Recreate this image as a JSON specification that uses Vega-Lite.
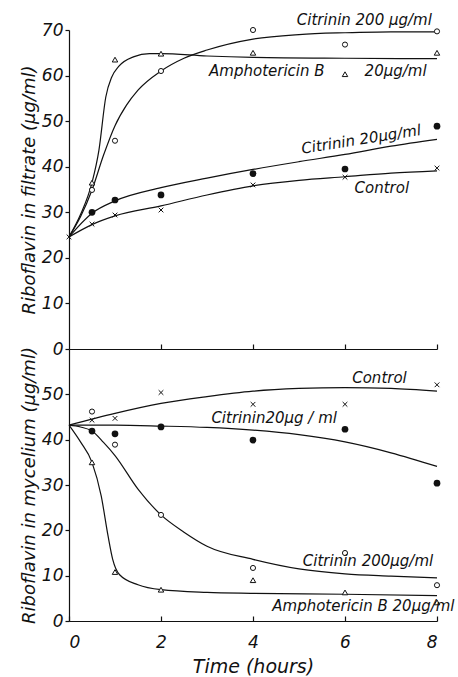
{
  "$schema": "https://vega.github.io/schema/vega-lite/v6.json",
  "background": "white",
  "padding": {"left": 20, "top": 13, "right": 5, "bottom": 5},
  "spacing": 0,
  "bounds": "flush",
  "config": {
    "view": {"stroke": null},
    "axis": {
      "grid": false,
      "domainColor": "#111",
      "tickColor": "#111",
      "domainWidth": 1.2,
      "tickWidth": 1.2,
      "labelFont": "DejaVu Sans",
      "labelFontStyle": "italic",
      "labelFontSize": 17,
      "labelColor": "#111",
      "titleFont": "DejaVu Sans",
      "titleFontStyle": "italic",
      "titleFontWeight": "normal",
      "titleFontSize": 18,
      "titleColor": "#111"
    },
    "text": {"font": "DejaVu Sans", "fontStyle": "italic", "fontSize": 15, "color": "#111"}
  },
  "datasets": {
    "pts": [
      {"panel": "filtrate", "series": "Control", "t": 0, "v": 24.6},
      {"panel": "filtrate", "series": "Control", "t": 0.5, "v": 27.4},
      {"panel": "filtrate", "series": "Control", "t": 1, "v": 29.4},
      {"panel": "filtrate", "series": "Control", "t": 2, "v": 30.5},
      {"panel": "filtrate", "series": "Control", "t": 4, "v": 36},
      {"panel": "filtrate", "series": "Control", "t": 6, "v": 37.7},
      {"panel": "filtrate", "series": "Control", "t": 8, "v": 39.7},
      {"panel": "filtrate", "series": "Citrinin 20", "t": 0.5, "v": 30},
      {"panel": "filtrate", "series": "Citrinin 20", "t": 1, "v": 32.7},
      {"panel": "filtrate", "series": "Citrinin 20", "t": 2, "v": 33.8},
      {"panel": "filtrate", "series": "Citrinin 20", "t": 4, "v": 38.5},
      {"panel": "filtrate", "series": "Citrinin 20", "t": 6, "v": 39.5},
      {"panel": "filtrate", "series": "Citrinin 20", "t": 8, "v": 48.9},
      {"panel": "filtrate", "series": "Citrinin 200", "t": 0.5, "v": 34.9},
      {"panel": "filtrate", "series": "Citrinin 200", "t": 1, "v": 45.7},
      {"panel": "filtrate", "series": "Citrinin 200", "t": 2, "v": 61},
      {"panel": "filtrate", "series": "Citrinin 200", "t": 4, "v": 70},
      {"panel": "filtrate", "series": "Citrinin 200", "t": 6, "v": 66.8},
      {"panel": "filtrate", "series": "Citrinin 200", "t": 8, "v": 69.7},
      {"panel": "filtrate", "series": "Amphotericin B", "t": 0.5, "v": 36.5},
      {"panel": "filtrate", "series": "Amphotericin B", "t": 1, "v": 63.5},
      {"panel": "filtrate", "series": "Amphotericin B", "t": 2, "v": 64.8},
      {"panel": "filtrate", "series": "Amphotericin B", "t": 4, "v": 65},
      {"panel": "filtrate", "series": "Amphotericin B", "t": 6, "v": 60.3},
      {"panel": "filtrate", "series": "Amphotericin B", "t": 8, "v": 65},
      {"panel": "mycelium", "series": "Control", "t": 0.5, "v": 44.3},
      {"panel": "mycelium", "series": "Control", "t": 1, "v": 44.7},
      {"panel": "mycelium", "series": "Control", "t": 2, "v": 50.4},
      {"panel": "mycelium", "series": "Control", "t": 4, "v": 47.8},
      {"panel": "mycelium", "series": "Control", "t": 6, "v": 47.8},
      {"panel": "mycelium", "series": "Control", "t": 8, "v": 52.1},
      {"panel": "mycelium", "series": "Citrinin 20", "t": 0.5, "v": 41.9},
      {"panel": "mycelium", "series": "Citrinin 20", "t": 1, "v": 41.3},
      {"panel": "mycelium", "series": "Citrinin 20", "t": 2, "v": 42.8},
      {"panel": "mycelium", "series": "Citrinin 20", "t": 4, "v": 39.9},
      {"panel": "mycelium", "series": "Citrinin 20", "t": 6, "v": 42.3},
      {"panel": "mycelium", "series": "Citrinin 20", "t": 8, "v": 30.4},
      {"panel": "mycelium", "series": "Citrinin 200", "t": 0.5, "v": 46.2},
      {"panel": "mycelium", "series": "Citrinin 200", "t": 1, "v": 38.9},
      {"panel": "mycelium", "series": "Citrinin 200", "t": 2, "v": 23.4},
      {"panel": "mycelium", "series": "Citrinin 200", "t": 4, "v": 11.7},
      {"panel": "mycelium", "series": "Citrinin 200", "t": 6, "v": 15},
      {"panel": "mycelium", "series": "Citrinin 200", "t": 8, "v": 7.9},
      {"panel": "mycelium", "series": "Amphotericin B", "t": 0.5, "v": 35},
      {"panel": "mycelium", "series": "Amphotericin B", "t": 1, "v": 10.8},
      {"panel": "mycelium", "series": "Amphotericin B", "t": 2, "v": 6.9},
      {"panel": "mycelium", "series": "Amphotericin B", "t": 4, "v": 9},
      {"panel": "mycelium", "series": "Amphotericin B", "t": 6, "v": 6.3},
      {"panel": "mycelium", "series": "Amphotericin B", "t": 8, "v": 4.1}
    ],
    "curves": [
      {"panel": "filtrate", "series": "Control", "t": 0, "v": 24.6},
      {"panel": "filtrate", "series": "Control", "t": 0.5, "v": 27.3},
      {"panel": "filtrate", "series": "Control", "t": 1, "v": 29.2},
      {"panel": "filtrate", "series": "Control", "t": 2, "v": 31.4},
      {"panel": "filtrate", "series": "Control", "t": 3, "v": 33.8},
      {"panel": "filtrate", "series": "Control", "t": 4, "v": 35.8},
      {"panel": "filtrate", "series": "Control", "t": 5, "v": 37},
      {"panel": "filtrate", "series": "Control", "t": 6, "v": 37.8},
      {"panel": "filtrate", "series": "Control", "t": 7, "v": 38.6},
      {"panel": "filtrate", "series": "Control", "t": 8, "v": 39.1},
      {"panel": "filtrate", "series": "Citrinin 20", "t": 0, "v": 24.6},
      {"panel": "filtrate", "series": "Citrinin 20", "t": 0.5, "v": 29.8},
      {"panel": "filtrate", "series": "Citrinin 20", "t": 1, "v": 32.5},
      {"panel": "filtrate", "series": "Citrinin 20", "t": 2, "v": 35.4},
      {"panel": "filtrate", "series": "Citrinin 20", "t": 3, "v": 37.5},
      {"panel": "filtrate", "series": "Citrinin 20", "t": 4, "v": 39.4},
      {"panel": "filtrate", "series": "Citrinin 20", "t": 5, "v": 41.1},
      {"panel": "filtrate", "series": "Citrinin 20", "t": 6, "v": 42.7},
      {"panel": "filtrate", "series": "Citrinin 20", "t": 7, "v": 44.5},
      {"panel": "filtrate", "series": "Citrinin 20", "t": 8, "v": 46},
      {"panel": "filtrate", "series": "Citrinin 200", "t": 0, "v": 24.6},
      {"panel": "filtrate", "series": "Citrinin 200", "t": 0.25, "v": 29},
      {"panel": "filtrate", "series": "Citrinin 200", "t": 0.5, "v": 34.9},
      {"panel": "filtrate", "series": "Citrinin 200", "t": 0.75, "v": 42.5},
      {"panel": "filtrate", "series": "Citrinin 200", "t": 1, "v": 49},
      {"panel": "filtrate", "series": "Citrinin 200", "t": 1.25, "v": 53.5},
      {"panel": "filtrate", "series": "Citrinin 200", "t": 1.5, "v": 56.8},
      {"panel": "filtrate", "series": "Citrinin 200", "t": 2, "v": 61},
      {"panel": "filtrate", "series": "Citrinin 200", "t": 2.5, "v": 63.8},
      {"panel": "filtrate", "series": "Citrinin 200", "t": 3, "v": 65.6},
      {"panel": "filtrate", "series": "Citrinin 200", "t": 4, "v": 68},
      {"panel": "filtrate", "series": "Citrinin 200", "t": 5, "v": 69},
      {"panel": "filtrate", "series": "Citrinin 200", "t": 6, "v": 69.4},
      {"panel": "filtrate", "series": "Citrinin 200", "t": 7, "v": 69.6},
      {"panel": "filtrate", "series": "Citrinin 200", "t": 8, "v": 69.6},
      {"panel": "filtrate", "series": "Amphotericin B", "t": 0, "v": 24.6},
      {"panel": "filtrate", "series": "Amphotericin B", "t": 0.25, "v": 29.5},
      {"panel": "filtrate", "series": "Amphotericin B", "t": 0.5, "v": 36.5},
      {"panel": "filtrate", "series": "Amphotericin B", "t": 0.65, "v": 43.6},
      {"panel": "filtrate", "series": "Amphotericin B", "t": 0.8, "v": 55.3},
      {"panel": "filtrate", "series": "Amphotericin B", "t": 0.93, "v": 59.7},
      {"panel": "filtrate", "series": "Amphotericin B", "t": 1.08, "v": 62},
      {"panel": "filtrate", "series": "Amphotericin B", "t": 1.4, "v": 64.1},
      {"panel": "filtrate", "series": "Amphotericin B", "t": 1.75, "v": 64.8},
      {"panel": "filtrate", "series": "Amphotericin B", "t": 2, "v": 64.8},
      {"panel": "filtrate", "series": "Amphotericin B", "t": 3, "v": 64.3},
      {"panel": "filtrate", "series": "Amphotericin B", "t": 4, "v": 64},
      {"panel": "filtrate", "series": "Amphotericin B", "t": 6, "v": 63.8},
      {"panel": "filtrate", "series": "Amphotericin B", "t": 8, "v": 63.7},
      {"panel": "mycelium", "series": "Control", "t": 0, "v": 43.2},
      {"panel": "mycelium", "series": "Control", "t": 1, "v": 45.8},
      {"panel": "mycelium", "series": "Control", "t": 2, "v": 48},
      {"panel": "mycelium", "series": "Control", "t": 3, "v": 49.5},
      {"panel": "mycelium", "series": "Control", "t": 4, "v": 50.7},
      {"panel": "mycelium", "series": "Control", "t": 5, "v": 51.3},
      {"panel": "mycelium", "series": "Control", "t": 6, "v": 51.5},
      {"panel": "mycelium", "series": "Control", "t": 7, "v": 51.3},
      {"panel": "mycelium", "series": "Control", "t": 8, "v": 50.7},
      {"panel": "mycelium", "series": "Citrinin 20", "t": 0, "v": 43.2},
      {"panel": "mycelium", "series": "Citrinin 20", "t": 1, "v": 43.2},
      {"panel": "mycelium", "series": "Citrinin 20", "t": 2, "v": 43},
      {"panel": "mycelium", "series": "Citrinin 20", "t": 3, "v": 42.7},
      {"panel": "mycelium", "series": "Citrinin 20", "t": 4, "v": 42.1},
      {"panel": "mycelium", "series": "Citrinin 20", "t": 5, "v": 41.1},
      {"panel": "mycelium", "series": "Citrinin 20", "t": 6, "v": 39.5},
      {"panel": "mycelium", "series": "Citrinin 20", "t": 7, "v": 37.1},
      {"panel": "mycelium", "series": "Citrinin 20", "t": 8, "v": 34.1},
      {"panel": "mycelium", "series": "Citrinin 200", "t": 0, "v": 43.2},
      {"panel": "mycelium", "series": "Citrinin 200", "t": 0.25, "v": 42.8},
      {"panel": "mycelium", "series": "Citrinin 200", "t": 0.5, "v": 41.9},
      {"panel": "mycelium", "series": "Citrinin 200", "t": 0.75, "v": 39.4},
      {"panel": "mycelium", "series": "Citrinin 200", "t": 1, "v": 36.5},
      {"panel": "mycelium", "series": "Citrinin 200", "t": 1.5, "v": 29.1},
      {"panel": "mycelium", "series": "Citrinin 200", "t": 2, "v": 23.4},
      {"panel": "mycelium", "series": "Citrinin 200", "t": 2.5, "v": 19.6},
      {"panel": "mycelium", "series": "Citrinin 200", "t": 3, "v": 16.5},
      {"panel": "mycelium", "series": "Citrinin 200", "t": 4, "v": 13.6},
      {"panel": "mycelium", "series": "Citrinin 200", "t": 5, "v": 11.5},
      {"panel": "mycelium", "series": "Citrinin 200", "t": 6, "v": 10.4},
      {"panel": "mycelium", "series": "Citrinin 200", "t": 7, "v": 9.9},
      {"panel": "mycelium", "series": "Citrinin 200", "t": 8, "v": 9.5},
      {"panel": "mycelium", "series": "Amphotericin B", "t": 0, "v": 43.2},
      {"panel": "mycelium", "series": "Amphotericin B", "t": 0.25, "v": 39.5},
      {"panel": "mycelium", "series": "Amphotericin B", "t": 0.5, "v": 35},
      {"panel": "mycelium", "series": "Amphotericin B", "t": 0.7, "v": 27.6},
      {"panel": "mycelium", "series": "Amphotericin B", "t": 0.85, "v": 18.7},
      {"panel": "mycelium", "series": "Amphotericin B", "t": 0.95, "v": 13.6},
      {"panel": "mycelium", "series": "Amphotericin B", "t": 1.1, "v": 10.2},
      {"panel": "mycelium", "series": "Amphotericin B", "t": 1.5, "v": 8},
      {"panel": "mycelium", "series": "Amphotericin B", "t": 2, "v": 6.9},
      {"panel": "mycelium", "series": "Amphotericin B", "t": 3, "v": 6.3},
      {"panel": "mycelium", "series": "Amphotericin B", "t": 4, "v": 6.1},
      {"panel": "mycelium", "series": "Amphotericin B", "t": 6, "v": 5.9},
      {"panel": "mycelium", "series": "Amphotericin B", "t": 8, "v": 5.6}
    ],
    "labels": [
      {"panel": "filtrate", "kind": "flat", "t": 6.42, "v": 72.1, "text": "Citrinin 200 µg/ml"},
      {"panel": "filtrate", "kind": "flat", "t": 4.3, "v": 61, "text": "Amphotericin B"},
      {"panel": "filtrate", "kind": "flat", "t": 7.1, "v": 61, "text": "20µg/ml"},
      {"panel": "filtrate", "kind": "tilted", "t": 6.35, "v": 46, "text": "Citrinin 20µg/ml"},
      {"panel": "filtrate", "kind": "flat", "t": 6.8, "v": 35.3, "text": "Control"},
      {"panel": "mycelium", "kind": "flat", "t": 6.75, "v": 53.6, "text": "Control"},
      {"panel": "mycelium", "kind": "flat", "t": 4.46, "v": 44.7, "text": "Citrinin20µg / ml"},
      {"panel": "mycelium", "kind": "flat", "t": 6.5, "v": 13.2, "text": "Citrinin 200µg/ml"},
      {"panel": "mycelium", "kind": "flat", "t": 6.4, "v": 3.2, "text": "Amphotericin B 20µg/ml"}
    ]
  },
  "vconcat": [
    {
      "width": 368,
      "height": 319,
      "encoding": {
        "x": {"field": "t", "type": "quantitative", "scale": {"domain": [0, 8]},
              "axis": {"title": null, "labels": false, "values": [2, 4, 6, 8], "tickSize": -5}},
        "y": {"field": "v", "type": "quantitative", "scale": {"domain": [0, 70]},
              "axis": {"title": "Riboflavin in filtrate (µg/ml)", "values": [0, 10, 20, 30, 40, 50, 60, 70], "tickSize": 4, "labelPadding": 2, "titlePadding": 3}}
      },
      "layer": [
        {"data": {"name": "curves"}, "transform": [{"filter": "datum.panel == 'filtrate'"}],
         "mark": {"type": "line", "interpolate": "monotone", "color": "#111", "strokeWidth": 1.2},
         "encoding": {"detail": {"field": "series"}}},
        {"data": {"name": "pts"}, "transform": [{"filter": "datum.panel == 'filtrate' && datum.series != 'Citrinin 20'"}],
         "mark": {"type": "point", "filled": false, "stroke": "#111", "strokeWidth": 1, "fill": "white", "fillOpacity": 1},
         "encoding": {"shape": {"field": "series", "scale": {"domain": ["Control", "Citrinin 200", "Amphotericin B"], "range": ["M-1,-1L1,1M-1,1L1,-1", "circle", "triangle-up"]}, "legend": null},
                      "size": {"field": "series", "scale": {"domain": ["Control", "Citrinin 200", "Amphotericin B"], "range": [22, 30, 26]}, "legend": null}}},
        {"data": {"name": "pts"}, "transform": [{"filter": "datum.panel == 'filtrate' && datum.series == 'Citrinin 20'"}],
         "mark": {"type": "circle", "color": "#111", "size": 45, "opacity": 1}},
        {"data": {"name": "labels"}, "transform": [{"filter": "datum.panel == 'filtrate' && datum.kind == 'flat'"}],
         "mark": {"type": "text", "align": "center", "baseline": "middle"},
         "encoding": {"text": {"field": "text"}}},
        {"data": {"name": "labels"}, "transform": [{"filter": "datum.panel == 'filtrate' && datum.kind == 'tilted'"}],
         "mark": {"type": "text", "align": "center", "baseline": "middle", "angle": 351},
         "encoding": {"text": {"field": "text"}}}
      ]
    },
    {
      "width": 368,
      "height": 272,
      "encoding": {
        "x": {"field": "t", "type": "quantitative", "scale": {"domain": [0, 8]},
              "axis": {"title": "Time (hours)", "values": [0, 2, 4, 6, 8], "tickSize": -5, "labelPadding": 18, "titleFontSize": 19, "titlePadding": 7}},
        "y": {"field": "v", "type": "quantitative", "scale": {"domain": [0, 60]},
              "axis": {"title": "Riboflavin in mycelium (µg/ml)", "values": [0, 10, 20, 30, 40, 50], "tickSize": 4, "labelPadding": 2, "titlePadding": 3}}
      },
      "layer": [
        {"data": {"name": "curves"}, "transform": [{"filter": "datum.panel == 'mycelium'"}],
         "mark": {"type": "line", "interpolate": "monotone", "color": "#111", "strokeWidth": 1.2},
         "encoding": {"detail": {"field": "series"}}},
        {"data": {"name": "pts"}, "transform": [{"filter": "datum.panel == 'mycelium' && datum.series != 'Citrinin 20'"}],
         "mark": {"type": "point", "filled": false, "stroke": "#111", "strokeWidth": 1, "fill": "white", "fillOpacity": 1},
         "encoding": {"shape": {"field": "series", "scale": {"domain": ["Control", "Citrinin 200", "Amphotericin B"], "range": ["M-1,-1L1,1M-1,1L1,-1", "circle", "triangle-up"]}, "legend": null},
                      "size": {"field": "series", "scale": {"domain": ["Control", "Citrinin 200", "Amphotericin B"], "range": [22, 30, 26]}, "legend": null}}},
        {"data": {"name": "pts"}, "transform": [{"filter": "datum.panel == 'mycelium' && datum.series == 'Citrinin 20'"}],
         "mark": {"type": "circle", "color": "#111", "size": 45, "opacity": 1}},
        {"data": {"name": "labels"}, "transform": [{"filter": "datum.panel == 'mycelium'"}],
         "mark": {"type": "text", "align": "center", "baseline": "middle"},
         "encoding": {"text": {"field": "text"}}}
      ]
    }
  ]
}
